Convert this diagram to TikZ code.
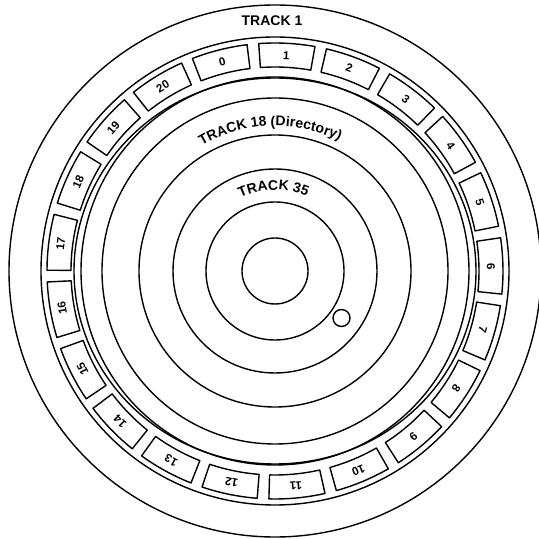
\documentclass[tikz,border=0pt]{standalone}
\usepackage{fontspec}
\setmainfont{Liberation Sans}
\usetikzlibrary{decorations.text}
\begin{document}
\begin{tikzpicture}[x=1pt,y=1pt,
  ring/.style={draw=black, line width=1.4pt},
  sectorbox/.style={draw=black, line width=1.4pt, line join=round},
  seclabel/.style={font=\bfseries\fontsize{11.5}{11.5}\selectfont, inner sep=0pt},
  tracklabel/.style={font=\bfseries\fontsize{14}{14}\selectfont, inner sep=0pt}]
\fill[white] (0,0) rectangle (539,539);
\useasboundingbox (0,0) rectangle (539,539);
\clip (0,0) rectangle (539,539);
\begin{scope}[shift={(275,268)}]
  \foreach \r in {266,234,194,173,136,102,69,33}
    \draw[ring] (0,0) circle[radius=\r];
  \draw[ring] (0,0) ellipse[x radius=201, y radius=193];
  \draw[ring] (66.5,-47) circle[radius=8.5];
  \foreach \k in {0,...,20} {
    \pgfmathsetmacro{\a}{87 - (\k-1)*360/21}
    \draw[sectorbox] ({\a-7.1}:204) arc[start angle={\a-7.1}, end angle={\a+7.1}, radius=204]
      -- ({\a+7.1}:228) arc[start angle={\a+7.1}, end angle={\a-7.1}, radius=228] -- cycle;
    \node[seclabel, rotate={\a-90}] (s\k) at (\a:216) {\k};
  }
  \node[tracklabel] (t1) at (-3,250) {TRACK 1};
  \path[decorate, decoration={text along path, text align=center,
      text={|\bfseries\fontsize{14}{14}\selectfont|TRACK 18  (Directory)}}]
    (152:145) arc[start angle=152, end angle=32, radius=145];
  \path[decorate, decoration={text along path, text align=center,
      text={|\bfseries\fontsize{14}{14}\selectfont|TRACK 35}}]
    (141:81) arc[start angle=141, end angle=41, radius=81];
\end{scope}
\end{tikzpicture}
\end{document}
